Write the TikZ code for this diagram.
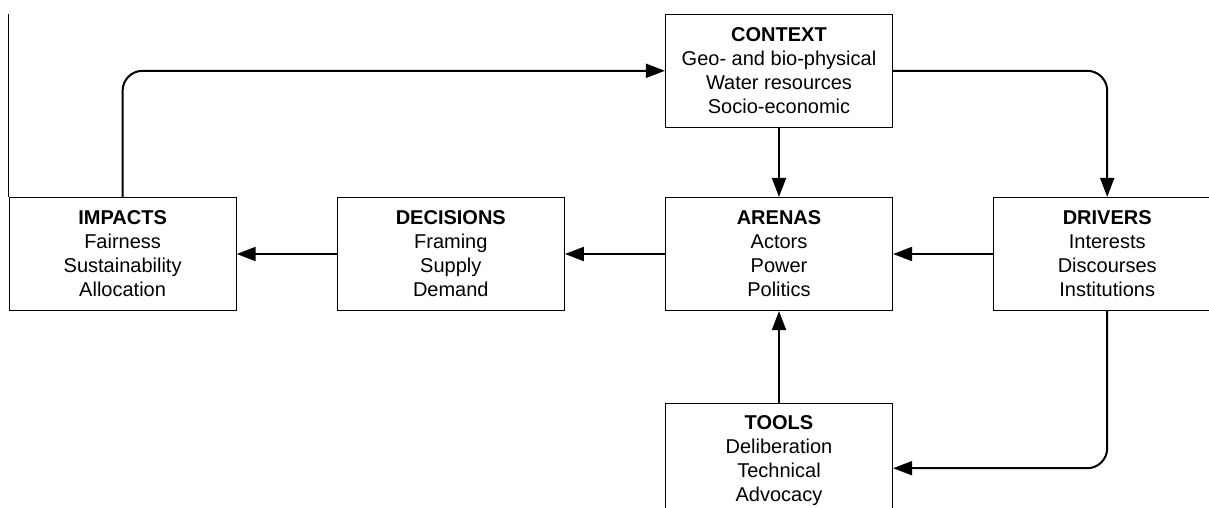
\documentclass[tikz,border=0pt]{standalone}
\usepackage{fontspec}
\setmainfont{Liberation Sans}
\usepackage{tikz}
\usetikzlibrary{positioning,arrows.meta}

\begin{document}
\begin{tikzpicture}[
      x=1pt, y=-1pt,
      node distance=100pt,
      box/.style={rectangle, draw, fill=white, minimum width=227pt, minimum height=113pt, inner sep=0pt, align=center, line width=1.2pt, font=\fontsize{20}{24}\selectfont},
      arrow/.style={-{Triangle[length=19pt,width=14pt]}, line width=2pt},
      link/.style={rounded corners=20pt},
      edgeline/.style={line width=1pt}
    ]

    \useasboundingbox (0,0) rectangle (1209,508);
    \clip (0,0) rectangle (1209,508);

    \node[box] (arenas) at (779,254) {\textbf{ARENAS}\\Actors\\Power\\Politics};
    \node[box, left=of arenas] (decisions) {\textbf{DECISIONS}\\Framing\\Supply\\Demand};
    \node[box, left=of decisions] (impacts) {\textbf{IMPACTS}\\Fairness\\Sustainability\\Allocation};
    \node[box, right=of arenas] (drivers) {\textbf{DRIVERS}\\Interests\\Discourses\\Institutions};
    \node[box, above=69pt of arenas] (context) {\textbf{CONTEXT}\\Geo- and bio-physical\\Water resources\\Socio-economic};
    \node[box, below=92pt of arenas] (tools) {\textbf{TOOLS}\\Deliberation\\Technical\\Advocacy};

    \coordinate (edgetop) at ([yshift=183pt]impacts.north west);
    \draw[edgeline] (edgetop) -- (impacts.north west);

    \draw[arrow] (context.south) -- (arenas.north);
    \draw[arrow] (tools.north) -- (arenas.south);
    \draw[arrow] (drivers.west) -- (arenas.east);
    \draw[arrow] (arenas.west) -- (decisions.east);
    \draw[arrow] (decisions.west) -- (impacts.east);

    \draw[arrow, link] (impacts.north) |- (context.west);
    \draw[arrow, link] (context.east) -| (drivers.north);
    \draw[arrow, link] (drivers.south) |- ([yshift=-8pt]tools.east);
    \end{tikzpicture}
\end{document}
